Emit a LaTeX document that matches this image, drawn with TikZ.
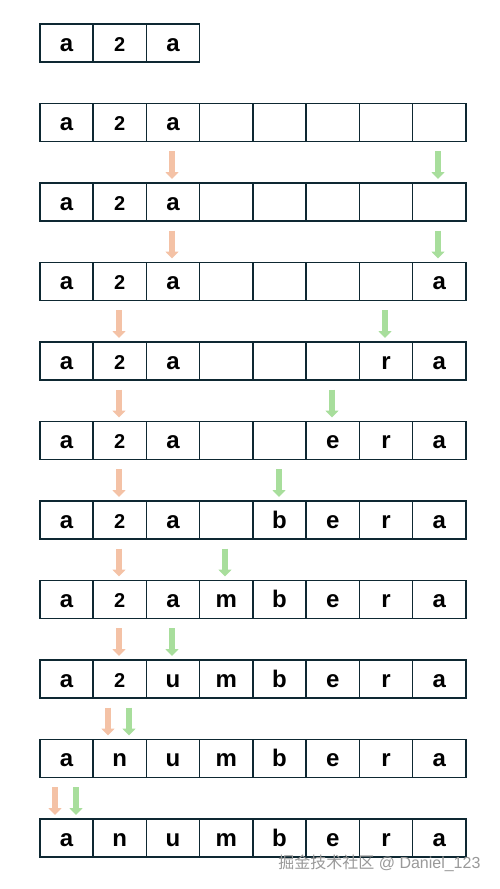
\documentclass[tikz,border=0pt]{standalone}
\usepackage{fontspec}
\setmainfont{Liberation Sans}
\newfontfamily\cjk{Noto Sans CJK SC}
\usetikzlibrary{arrows.meta}

\definecolor{boxline}{HTML}{0E2832}
\definecolor{slowptr}{HTML}{F4C2A6}
\definecolor{fastptr}{HTML}{A8DE9C}

\newcommand\blank{}
\newcommand\two{{\fontsize{20}{20}\selectfont 2}}

\tikzset{
  cell/.style={draw=boxline, line width=1.7pt, minimum width=53.25pt, minimum height=38pt,
    inner sep=0pt, anchor=north west, font=\bfseries\fontsize{24}{24}\selectfont,
    text height=17pt, text depth=0pt},
  ptr/.style={-{Triangle[length=7pt,width=13pt]}, line width=5.5pt},
}

\begin{document}
\begin{tikzpicture}[x=1pt,y=1pt]
    \useasboundingbox (0,0) rectangle (500,-889);

    % the rows of the array
    \foreach \k/\cells in {
        0/{a,\two,a},
        1/{a,\two,a,\blank,\blank,\blank,\blank,\blank},
        2/{a,\two,a,\blank,\blank,\blank,\blank,\blank},
        3/{a,\two,a,\blank,\blank,\blank,\blank,a},
        4/{a,\two,a,\blank,\blank,\blank,r,a},
        5/{a,\two,a,\blank,\blank,e,r,a},
        6/{a,\two,a,\blank,b,e,r,a},
        7/{a,\two,a,m,b,e,r,a},
        8/{a,\two,u,m,b,e,r,a},
        9/{a,n,u,m,b,e,r,a},
        10/{a,n,u,m,b,e,r,a}} {
      \foreach \c [count=\i from 0] in \cells
        \node[cell] (c\k-\i) at (39+53.25*\i, -23-79.5*\k) {\c};
    }

    % two pointers
    \foreach \k/\o/\g in {2/172/438, 3/172/438, 4/119/385, 5/119/332,
        6/119/279, 7/119/225, 8/119/172, 9/108/129, 10/55/76} {
      \coordinate (slowA\k) at (\o, -23-79.5*\k+31);
      \coordinate (slowB\k) at (\o, -23-79.5*\k+3);
      \coordinate (fastA\k) at (\g, -23-79.5*\k+31);
      \coordinate (fastB\k) at (\g, -23-79.5*\k+3);
      \draw[ptr, slowptr] (slowA\k) -- (slowB\k);
      \draw[ptr, fastptr] (fastA\k) -- (fastB\k);
    }

    \node[text=black!40, font=\fontsize{16}{16}\selectfont, anchor=east] (mark)
        at (484,-863) {{\cjk 掘金技术社区} @ Daniel\_123};
\end{tikzpicture}
\end{document}
